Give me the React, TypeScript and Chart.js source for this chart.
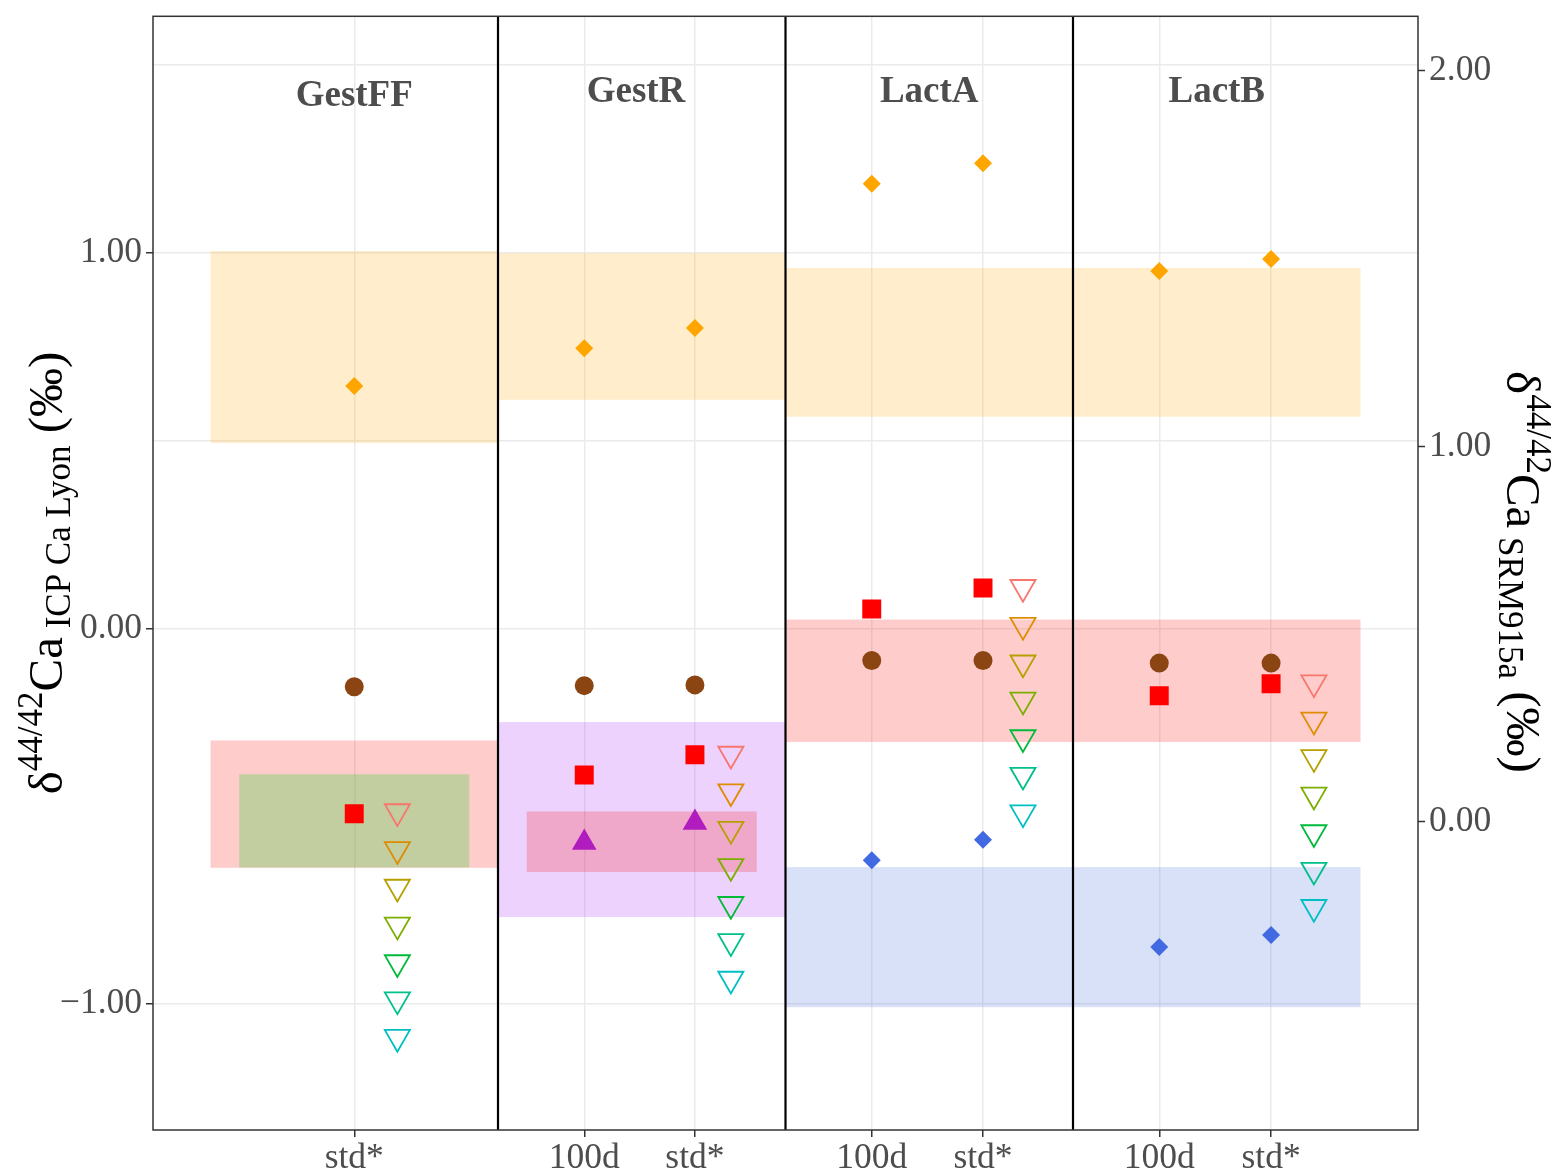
import React, { useEffect, useRef } from 'react';
import { Chart, registerables } from 'chart.js';

Chart.register(...registerables);

// ---- data ----
const tickPositions = [1.0, 1.8, 2.185, 2.8, 3.187, 3.8, 4.189];
const tickLabels = ['std*', '100d', 'std*', '100d', 'std*', '100d', 'std*'];

const orangeDiamondY = [0.646, 0.746, 0.8, 1.184, 1.239, 0.952, 0.984];
const brownCircleY = [-0.155, -0.152, -0.15, -0.085, -0.085, -0.092, -0.092];
const redSquareY = [-0.493, -0.39, -0.336, 0.052, 0.108, -0.179, -0.147];

const purpleX = [1.8, 2.185];
const purpleY = [-0.57, -0.517];

const blueX = [2.8, 3.187, 3.8, 4.189];
const blueY = [-0.617, -0.562, -0.848, -0.816];

const stepX = [1.15, 2.31, 3.326, 4.338];
const stepGestFF = [-0.487, -0.588, -0.688, -0.789, -0.889, -0.988, -1.088];
const stepGestR = [-0.334, -0.434, -0.534, -0.633, -0.734, -0.833, -0.933];
const stepLactA = [0.11, 0.009, -0.091, -0.19, -0.29, -0.39, -0.49];
const stepLactB = [-0.144, -0.243, -0.343, -0.443, -0.543, -0.643, -0.742];
const stepColors = ['#F8766D', '#DE8C00', '#B79F00', '#7CAE00', '#00BA38', '#00C08B', '#00BFC4'];

const panelNames = ['GestFF', 'GestR', 'LactA', 'LactB'];
const panelLabelX = [1, 1.98, 3, 4];
const panelLabelY = [1.392, 1.403, 1.403, 1.403];
const panelDividers = [1.5, 2.5, 3.5];

const bandX0 = [0.5, 1.5, 2.5, 0.5, 0.6, 1.5, 1.6, 2.5, 2.5];
const bandX1 = [1.5, 2.5, 4.5, 1.5, 1.4, 2.5, 2.4, 4.5, 4.5];
const bandY0 = [0.494, 0.609, 0.564, -0.637, -0.636, -0.768, -0.648, -0.302, -1.008];
const bandY1 = [1.005, 0.999, 0.96, -0.298, -0.388, -0.249, -0.487, 0.024, -0.635];
const bandColors = [
  'rgba(255,165,0,0.2)',
  'rgba(255,165,0,0.2)',
  'rgba(255,165,0,0.2)',
  'rgba(255,0,0,0.2)',
  'rgba(102,204,92,0.4)',
  'rgba(160,32,240,0.2)',
  'rgba(255,0,0,0.2)',
  'rgba(255,0,0,0.2)',
  'rgba(65,105,225,0.2)',
];

const leftMajor = [-1, 0, 1];
const leftGrid = [-1, 0, 0.5, 1, 1.5];
const rightMajor = [0, 1, 2];
const secOffset = 0.515;
const yMin = -1.335;
const yMax = 1.63;
const xMin = 0.3;
const xMax = 4.7;

const SERIF = '"Liberation Serif", "Times New Roman", serif';

const fmt = (v: number) => (v < 0 ? '\u2212' + Math.abs(v).toFixed(2) : v.toFixed(2));

type Part = { text: string; size: number; dy: number };

function drawRich(ctx: CanvasRenderingContext2D, parts: Part[], cx: number, cy: number, rot: number) {
  ctx.save();
  ctx.translate(cx, cy);
  ctx.rotate(rot);
  ctx.fillStyle = '#000000';
  ctx.textAlign = 'left';
  ctx.textBaseline = 'alphabetic';
  const widths = parts.map((p) => {
    ctx.font = `${p.size}px ${SERIF}`;
    return ctx.measureText(p.text).width;
  });
  const total = widths.reduce((a, b) => a + b, 0);
  let x = -total / 2;
  parts.forEach((p, i) => {
    ctx.font = `${p.size}px ${SERIF}`;
    ctx.fillText(p.text, x, p.dy);
    x += widths[i];
  });
  ctx.restore();
}

const overlayPlugin = {
  id: 'overlay',
  beforeDatasetsDraw(chart: any) {
    const { ctx, chartArea, scales } = chart;
    const xs = scales.x;
    const ys = scales.y;
    ctx.save();
    ctx.beginPath();
    ctx.rect(chartArea.left, chartArea.top, chartArea.right - chartArea.left, chartArea.bottom - chartArea.top);
    ctx.clip();
    for (let i = 0; i < bandX0.length; i++) {
      const x0 = xs.getPixelForValue(bandX0[i]);
      const x1 = xs.getPixelForValue(bandX1[i]);
      const y0 = ys.getPixelForValue(bandY0[i]);
      const y1 = ys.getPixelForValue(bandY1[i]);
      ctx.fillStyle = bandColors[i];
      ctx.fillRect(x0, y1, x1 - x0, y0 - y1);
    }
    ctx.strokeStyle = '#000000';
    ctx.lineWidth = 2.2;
    panelDividers.forEach((d) => {
      const px = xs.getPixelForValue(d);
      ctx.beginPath();
      ctx.moveTo(px, chartArea.top);
      ctx.lineTo(px, chartArea.bottom);
      ctx.stroke();
    });
    ctx.restore();
  },
  afterDatasetsDraw(chart: any) {
    const { ctx, chartArea, scales } = chart;
    const xs = scales.x;
    const ys = scales.y;
    ctx.save();
    ctx.fillStyle = '#4D4D4D';
    ctx.font = `bold 37px ${SERIF}`;
    ctx.textAlign = 'center';
    ctx.textBaseline = 'alphabetic';
    panelNames.forEach((n, i) => {
      ctx.fillText(n, xs.getPixelForValue(panelLabelX[i]), ys.getPixelForValue(panelLabelY[i]));
    });
    ctx.strokeStyle = '#333333';
    ctx.lineWidth = 1.5;
    ctx.strokeRect(chartArea.left, chartArea.top, chartArea.right - chartArea.left, chartArea.bottom - chartArea.top);
    ctx.restore();
  },
  afterDraw(chart: any) {
    const { ctx } = chart;
    drawRich(
      ctx,
      [
        { text: '\u03B4', size: 49, dy: 0 },
        { text: '44/42', size: 35, dy: -20 },
        { text: 'Ca', size: 49, dy: 0 },
        { text: ' ICP Ca Lyon', size: 35, dy: 8 },
        { text: ' (\u2030)', size: 49, dy: 0 },
      ],
      62,
      573,
      -Math.PI / 2
    );
    drawRich(
      ctx,
      [
        { text: '\u03B4', size: 49, dy: 0 },
        { text: '44/42', size: 35, dy: -20 },
        { text: 'Ca', size: 49, dy: 0 },
        { text: ' SRM915a', size: 35, dy: 8 },
        { text: ' (\u2030)', size: 49, dy: 0 },
      ],
      1507,
      572,
      Math.PI / 2
    );
  },
};

export default function App() {
  const canvasRef = useRef<HTMLCanvasElement | null>(null);

  useEffect(() => {
    if (!canvasRef.current) return;
    const pts = (xs: number[], ys: number[]) => xs.map((x, i) => ({ x, y: ys[i] }));
    const stepGroups = [stepGestFF, stepGestR, stepLactA, stepLactB];

    const datasets: any[] = [
      {
        label: 'orange',
        data: pts(tickPositions, orangeDiamondY),
        pointStyle: 'rectRot',
        pointRadius: 9,
        backgroundColor: '#FFA500',
        borderWidth: 0,
      },
      {
        label: 'brown',
        data: pts(tickPositions, brownCircleY),
        pointStyle: 'circle',
        pointRadius: 9.5,
        backgroundColor: '#8B4513',
        borderWidth: 0,
      },
      {
        label: 'red',
        data: pts(tickPositions, redSquareY),
        pointStyle: 'rect',
        pointRadius: 13.4,
        backgroundColor: '#FF0000',
        borderWidth: 0,
      },
      {
        label: 'purple',
        data: pts(purpleX, purpleY),
        pointStyle: 'triangle',
        pointRadius: 14.2,
        backgroundColor: '#B01CBE',
        borderWidth: 0,
      },
      {
        label: 'blue',
        data: pts(blueX, blueY),
        pointStyle: 'rectRot',
        pointRadius: 9,
        backgroundColor: '#4169E1',
        borderWidth: 0,
      },
      ...stepColors.map((c, k) => ({
        label: 'step' + k,
        data: stepX.map((x, i) => ({ x, y: stepGroups[i][k] })),
        pointStyle: 'triangle',
        pointRotation: 180,
        pointRadius: 14.5,
        backgroundColor: 'rgba(0,0,0,0)',
        borderColor: c,
        borderWidth: 1.8,
      })),
    ].map((d) => ({ ...d, yAxisID: 'y', xAxisID: 'x', showLine: false }));

    const tickFont = { family: SERIF, size: 35.5 };
    const noPadV = (s: any) => {
      s.paddingTop = 0;
      s.paddingBottom = 0;
    };

    const chart = new Chart(canvasRef.current, {
      type: 'scatter',
      data: { datasets },
      plugins: [overlayPlugin],
      options: {
        animation: false,
        responsive: false,
        devicePixelRatio: 1,
        layout: { padding: { top: 15, left: 0, right: 0, bottom: 0 } },
        plugins: { legend: { display: false }, tooltip: { enabled: false } },
        scales: {
          x: {
            type: 'linear',
            position: 'bottom',
            min: xMin,
            max: xMax,
            afterBuildTicks: (s: any) => {
              s.ticks = tickPositions.map((v) => ({ value: v }));
            },
            afterFit: (s: any) => {
              s.height = 45;
              s.paddingLeft = 0;
              s.paddingRight = 0;
            },
            ticks: {
              autoSkip: false,
              maxRotation: 0,
              minRotation: 0,
              padding: 0,
              color: '#4D4D4D',
              font: tickFont,
              callback: (_v: any, i: number) => tickLabels[i],
            },
            grid: {
              color: '#EBEBEB',
              lineWidth: 1.5,
              tickColor: '#333333',
              tickLength: 7,
              tickWidth: 1.5,
              drawTicks: true,
            },
            border: { display: false },
          },
          y: {
            type: 'linear',
            position: 'left',
            min: yMin,
            max: yMax,
            afterBuildTicks: (s: any) => {
              s.ticks = leftGrid.map((v) => ({ value: v }));
            },
            afterFit: (s: any) => {
              s.width = 153;
              noPadV(s);
            },
            ticks: {
              padding: 4,
              color: '#4D4D4D',
              font: tickFont,
              callback: (v: any) => (leftMajor.includes(Number(v)) ? fmt(Number(v)) : ''),
            },
            grid: {
              color: '#EBEBEB',
              lineWidth: 1.5,
              tickColor: (c: any) => (c.tick && leftMajor.includes(c.tick.value) ? '#333333' : 'rgba(0,0,0,0)'),
              tickLength: 7,
              tickWidth: 1.5,
            },
            border: { display: false },
          },
          y2: {
            type: 'linear',
            position: 'right',
            min: yMin + secOffset,
            max: yMax + secOffset,
            afterBuildTicks: (s: any) => {
              s.ticks = rightMajor.map((v) => ({ value: v }));
            },
            afterFit: (s: any) => {
              s.width = 150;
              noPadV(s);
            },
            ticks: {
              padding: 4,
              color: '#4D4D4D',
              font: tickFont,
              callback: (v: any) => fmt(Number(v)),
            },
            grid: {
              drawOnChartArea: false,
              tickColor: '#333333',
              tickLength: 7,
              tickWidth: 1.5,
            },
            border: { display: false },
          },
        },
      } as any,
    });
    return () => chart.destroy();
  }, []);

  return (
    <div style={{ position: 'absolute', left: 0, top: 0, width: 1568, height: 1175, background: '#FFFFFF' }}>
      <canvas ref={canvasRef} width={1568} height={1175} style={{ display: 'block' }} />
    </div>
  );
}
